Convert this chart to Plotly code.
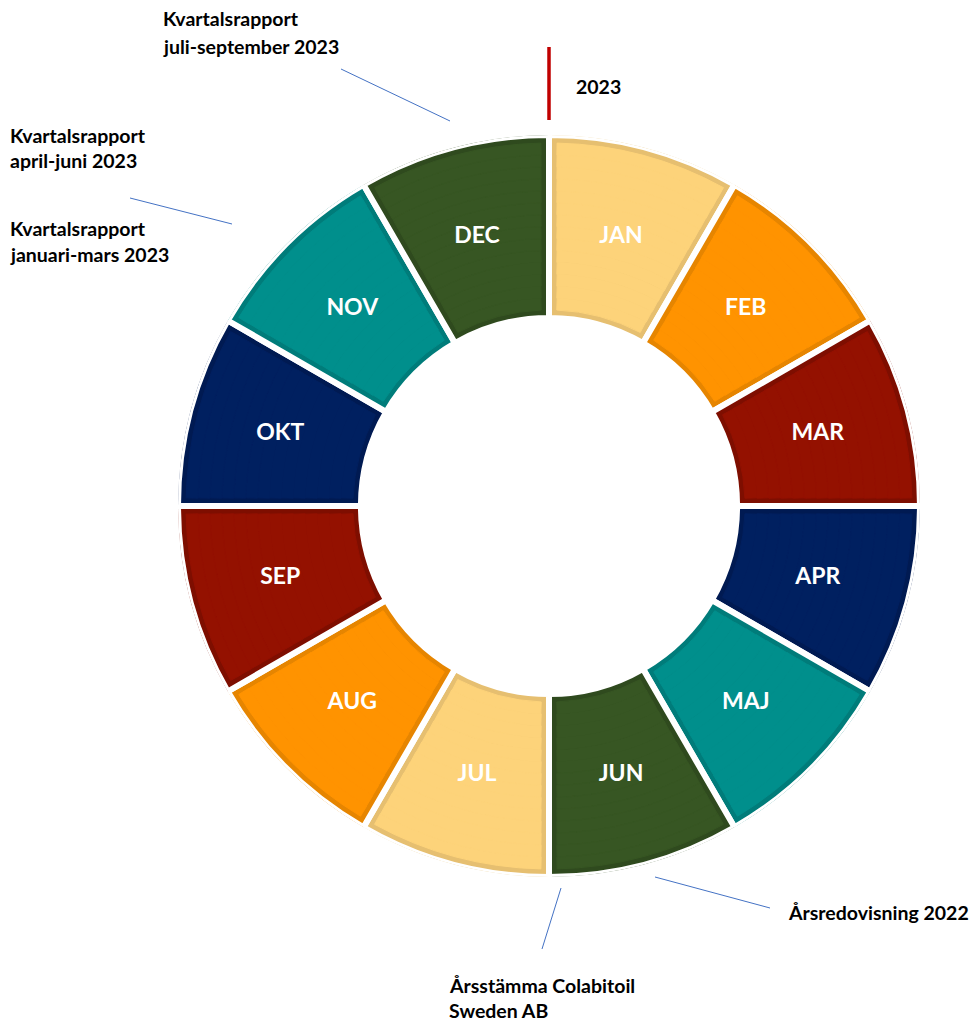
import math
import plotly.graph_objects as go

# ---------------- data ----------------
months = ["JAN", "FEB", "MAR", "APR", "MAJ", "JUN",
          "JUL", "AUG", "SEP", "OKT", "NOV", "DEC"]
month_values = [1] * 12
fill_colors = ["#FDD37A", "#FF9300", "#941100", "#002060", "#008F8C", "#375623",
               "#FDD37A", "#FF9300", "#941100", "#002060", "#008F8C", "#375623"]
border_colors = ["#E6BF70", "#E68500", "#7E0E00", "#001A52", "#007C7A", "#2F4A1E",
                 "#E6BF70", "#E68500", "#7E0E00", "#001A52", "#007C7A", "#2F4A1E"]

year_label = "2023"
event_labels = [
    ["Kvartalsrapport", "juli-september 2023"],
    ["Kvartalsrapport", "april-juni 2023"],
    ["Kvartalsrapport", "januari-mars 2023"],
    ["Årsredovisning 2022"],
    ["Årsstämma Colabitoil", "Sweden AB"],
]

# ---------------- geometry / style ----------------
W, H = 970, 1021
CX, CY = 549, 506          # centre in window pixels (from top-left)
RD = 371                   # polar domain radius in px
R_IN = 0.507               # inner radius (fraction of RD)
GAP = 6                    # white gap width px
BORDER = 5                 # inner border width px
FONT = "Lato"

total = sum(month_values)
widths = [v * 360.0 / total for v in month_values]
centers = []
acc = 0.0
for w in widths:
    centers.append(acc + w / 2)
    acc += w

cy_b = H - CY
dom_x = [(CX - RD) / W, (CX + RD) / W]
dom_y = [(cy_b - RD) / H, (cy_b + RD) / H]

fig = go.Figure()

# layer 1: border-coloured sectors with white gaps
fig.add_trace(go.Barpolar(
    theta=centers, width=widths,
    base=[R_IN] * 12, r=[1 - R_IN] * 12,
    marker=dict(color=border_colors, line=dict(color="white", width=GAP)),
    hoverinfo="skip", showlegend=False,
))

# layer 2: fill-coloured sectors inset by a constant pixel distance
inset = GAP / 2 + BORDER
nb = 14
r0 = R_IN + inset / RD
r1 = 1 - inset / RD
th_l, w_l, b_l, r_l, c_l = [], [], [], [], []
for k in range(nb):
    a = r0 + (r1 - r0) * k / nb
    b = r0 + (r1 - r0) * (k + 1) / nb
    rho = (a + b) / 2 * RD
    dang = math.degrees(inset / rho)
    for i in range(12):
        th_l.append(centers[i])
        w_l.append(widths[i] - 2 * dang)
        b_l.append(a)
        r_l.append(b - a)
        c_l.append(fill_colors[i])
fig.add_trace(go.Barpolar(
    theta=th_l, width=w_l, base=b_l, r=r_l,
    marker=dict(color=c_l, line=dict(color=c_l, width=1)),
    hoverinfo="skip", showlegend=False,
))

# month labels
fig.add_trace(go.Scatterpolar(
    theta=centers, r=[0.75] * 12, mode="text", text=months,
    textposition="middle center",
    textfont=dict(family=FONT, size=23, color="white", weight="bold"),
    hoverinfo="skip", showlegend=False,
))

fig.update_layout(
    width=W, height=H,
    margin=dict(l=0, r=0, t=0, b=0),
    paper_bgcolor="white",
    showlegend=False,
    polar=dict(
        domain=dict(x=dom_x, y=dom_y),
        bgcolor="rgba(0,0,0,0)",
        angularaxis=dict(direction="clockwise", rotation=90, visible=False),
        radialaxis=dict(range=[0, 1], visible=False),
        barmode="overlay",
    ),
)

def px(x, y):
    return x / W, 1 - y / H

annots = []
def add_text(x, y, txt, size=19.5):
    xp, yp = px(x, y)
    annots.append(dict(x=xp, y=yp, xref="paper", yref="paper", text="<b>%s</b>" % txt,
                       showarrow=False, xanchor="left", yanchor="middle",
                       borderpad=0, borderwidth=0,
                       font=dict(family=FONT, size=size, color="black")))

text_pos = [
    [(163, 19), (163, 46)],
    [(10, 135), (10, 161)],
    [(10, 228), (10, 254)],
    [(788, 912)],
    [(449, 985), (449, 1010)],
]
for lines, poss in zip(event_labels, text_pos):
    for t, (x, y) in zip(lines, poss):
        add_text(x, y, t)
add_text(576, 86, year_label)

shapes = []
def line(x0, y0, x1, y1, color, width):
    a = px(x0, y0)
    b = px(x1, y1)
    shapes.append(dict(type="line", xref="paper", yref="paper",
                       x0=a[0], y0=a[1], x1=b[0], y1=b[1],
                       line=dict(color=color, width=width)))

line(549, 47, 549, 120, "#C00000", 3.5)
for seg in [(341, 69, 450, 121), (130, 198, 232, 224),
            (655, 877, 770, 908), (561, 888, 542, 949)]:
    line(*seg, "#4472C4", 1)

fig.update_layout(annotations=annots, shapes=shapes)
fig.write_html(
    "out.html",
    config={"displayModeBar": False},
    post_script="document.body.style.margin='0';document.body.style.overflow='hidden';"
                "document.documentElement.style.overflow='hidden';",
)
